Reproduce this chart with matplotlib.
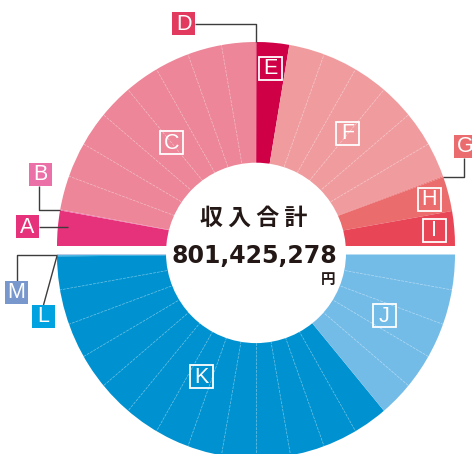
import numpy as np
import matplotlib.pyplot as plt
from matplotlib.patches import Rectangle, Ellipse

# upper half: income breakdown (% of total)
income_labels = ["A", "B", "C", "D", "E", "F", "G", "H", "I"]
income_values = [5.6, 0.15, 44.3, 0.15, 5.3, 33.6, 0.15, 5.5, 5.5]
income_colors = ["#E6327A", "#EA70A7", "#EC8698", "#E23A5E", "#CF0046",
                 "#F09C9F", "#EB6C6F", "#EB6C6D", "#E84656"]

# lower half (% of total)
outgo_labels = ["M", "L", "K", "J"]
outgo_values = [0.15, 0.15, 72.0, 27.8]
outgo_colors = ["#7897CC", "#00A3E0", "#0092D0", "#74BCE8"]

total_title = "収 入 合 計"
total_amount = "801,425,278"
total_unit = "円"

# pixel layout helpers (figure is 472x454 px, axes fill it)
SX, SY = 199.0, 204.0      # px per radius unit, x and y
CX, CY = 256.0, 246.0      # centre of upper half in px
LOWER_SHIFT = 8.5          # px gap between the halves


def px(x, y):
    return ((x - CX) / SX, (CY - y) / SY)


def polar(center, r, deg):
    t = np.radians(deg)
    return center[0] + r * np.cos(t), center[1] + r * np.sin(t)


def draw_box(ax, xy, letter, color=None):
    w, h = 23 / SX, 23 / SY
    if color is None:
        rect = Rectangle((xy[0] - w / 2, xy[1] - h / 2), w, h, facecolor="none",
                         edgecolor="white", linewidth=1.3, zorder=6)
    else:
        rect = Rectangle((xy[0] - w / 2, xy[1] - h / 2), w, h, facecolor=color,
                         edgecolor="none", zorder=6)
    ax.add_patch(rect)
    ax.text(xy[0], xy[1] - 0.5 / SY, letter, color="white", fontsize=15.5,
            family="Liberation Sans", ha="center", va="center", zorder=7)


def main():
    fig = plt.figure(figsize=(4.72, 4.54), dpi=100)
    ax = fig.add_axes([0, 0, 1, 1])

    top_c = (0.0, 0.0)
    bot_c = (0.0, -LOWER_SHIFT / SY)

    top_w, _ = ax.pie(income_values + [sum(income_values)],
                      colors=income_colors + ["none"], startangle=180,
                      counterclock=False, radius=1, center=top_c,
                      wedgeprops=dict(linewidth=0))
    bot_w, _ = ax.pie([sum(outgo_values)] + outgo_values,
                      colors=["none"] + outgo_colors, startangle=0,
                      counterclock=True, radius=1, center=bot_c,
                      wedgeprops=dict(linewidth=0))
    top_w = dict(zip(income_labels, top_w[:-1]))
    bot_w = dict(zip(outgo_labels, bot_w[1:]))
    wedges = {**top_w, **bot_w}

    # faint radial guide lines every 10 degrees inside the segments
    edges = []
    for w in wedges.values():
        edges += [w.theta1 % 360, w.theta2 % 360]
    for ang in list(range(10, 180, 10)) + list(range(190, 360, 10)):
        if min(min(abs(ang - e), 360 - abs(ang - e)) for e in edges) < 1.5:
            continue
        c = top_c if ang < 180 else bot_c
        p0 = polar(c, 0.3, ang)
        p1 = polar(c, 1.0, ang)
        ax.plot([p0[0], p1[0]], [p0[1], p1[1]], color="white", lw=0.5,
                alpha=0.45, ls=(0, (4, 1.5)), zorder=3)

    # centre hole
    hc = px(256, 252.9)
    ax.add_patch(Ellipse(hc, 2 * 90 / SX, 2 * 90.2 / SY, facecolor="white",
                         edgecolor="none", zorder=4))

    # labels inside the ring
    inner_r = {"C": 0.66, "E": 0.875, "F": 0.72, "H": 0.90, "I": 0.90,
               "J": 0.71, "K": 0.66}
    for lab, r in inner_r.items():
        w = wedges[lab]
        mid = (w.theta1 + w.theta2) / 2
        draw_box(ax, polar(w.center, r, mid), lab)

    # labels outside with leader lines
    box_pos = {"A": (27.5, 0), "B": (40.5, 174.5), "D": (183.5, 23.5),
               "G": (465, 146), "M": (16.5, 292), "L": (43.5, 316.5)}
    line_kw = dict(color="#3C3C3C", lw=1.0, zorder=5, solid_capstyle="butt")
    for lab, (bx, by) in box_pos.items():
        w = wedges[lab]
        mid = (w.theta1 + w.theta2) / 2
        if lab == "A":
            anchor = polar(w.center, 0.95, mid)
            box = (px(bx, 0)[0], anchor[1] + 2.5 / SY)
            ax.plot([box[0] + 11.5 / SX, anchor[0]], [box[1], box[1]], **line_kw)
        else:
            anchor = polar(w.center, 1.0, mid)
            box = px(bx, by)
            hw, hh = 11.5 / SX, 11.5 / SY
            if lab == "B":
                xs = [box[0] - 1.5 / SX, box[0] - 1.5 / SX, anchor[0]]
                ys = [box[1] - hh, anchor[1], anchor[1]]
            elif lab == "D":
                xs = [box[0] + hw, anchor[0], anchor[0]]
                ys = [box[1], box[1], anchor[1]]
            elif lab == "G":
                xs = [box[0] - 1 / SX, box[0] - 1 / SX, anchor[0]]
                ys = [box[1] - hh, anchor[1], anchor[1]]
            elif lab == "M":
                xs = [box[0], box[0], anchor[0]]
                ys = [box[1] + hh, anchor[1], anchor[1]]
            else:
                xs = [box[0], anchor[0]]
                ys = [box[1] + hh, anchor[1]]
            ax.plot(xs, ys, **line_kw)
        color = income_colors[income_labels.index(lab)] if lab in income_labels \
            else outgo_colors[outgo_labels.index(lab)]
        draw_box(ax, box, lab, color)

    # centre text
    ink = "#231815"
    ax.text(*px(254, 218), total_title, fontsize=16.5, fontweight="bold",
            family=["Noto Sans CJK JP", "DejaVu Sans"], color=ink,
            ha="center", va="center", zorder=8)
    ax.text(*px(254, 256), total_amount, fontsize=17, fontweight="bold",
            family="DejaVu Sans", color=ink, ha="center", va="center",
            zorder=8)
    ax.text(*px(328, 279), total_unit, fontsize=10.5, fontweight="bold",
            family="Noto Sans CJK JP", color=ink, ha="center", va="center",
            zorder=8)

    ax.set_aspect("auto")
    ax.set_xlim(-CX / SX, (472 - CX) / SX)
    ax.set_ylim(-(454 - CY) / SY, CY / SY)
    ax.axis("off")
    fig.savefig("out.png", dpi=100)


if __name__ == "__main__":
    main()
